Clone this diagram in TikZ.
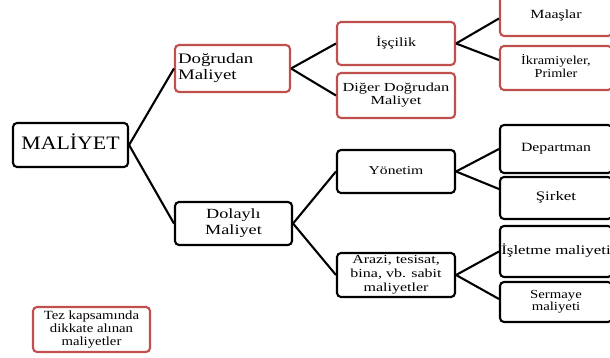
\documentclass[tikz,border=0pt]{standalone}
\usepackage{graphicx}
\usepackage{fontspec}
\setmainfont{Liberation Serif}
\definecolor{boxred}{RGB}{192,80,77}
% #1 column alignment, #2 horizontal stretch, #3 font size, #4 line skip, #5 lines
\newcommand{\cellt}[5]{{\fontsize{#3}{#4}\selectfont\scalebox{#2}[1]{\begin{tabular}{@{}#1@{}}#5\end{tabular}}}}
\tikzset{
  basebox/.style={line width=2.1pt, rounded corners=4pt, fill=white, inner sep=0pt},
  redbox/.style={basebox, draw=boxred},
  blackbox/.style={basebox, draw=black},
  link/.style={draw=black, line width=2.1pt},
}
\begin{document}
\begin{tikzpicture}[x=1pt,y=-1pt]
\clip (0,0) rectangle (610,358);
\fill[white] (0,0) rectangle (610,358);

% root
\node[blackbox, minimum width=115pt, minimum height=44pt] (root) at (70.5,145)
  {\cellt{c}{1.15}{19}{22}{MALİYET}};

% second level
\node[redbox, minimum width=115pt, minimum height=47pt] (direct) at (232.5,68.5)
  {\makebox[109pt][l]{\cellt{l}{1.3}{14.5}{15.5}{Doğrudan\\Maliyet}}};
\node[blackbox, minimum width=117pt, minimum height=43pt] (indirect) at (233.5,223.5)
  {\cellt{c}{1.3}{14}{16}{Dolaylı\\Maliyet}};

% third level
\node[redbox, minimum width=118pt, minimum height=43pt] (labour) at (396,43.5)
  {\cellt{c}{1.28}{12.5}{14}{İşçilik}};
\node[redbox, minimum width=118pt, minimum height=45pt] (otherdirect) at (396,95.5)
  {\cellt{c}{1.33}{12.3}{12.5}{Diğer Doğrudan\\Maliyet}};
\node[blackbox, minimum width=118pt, minimum height=43pt] (mgmt) at (396,171.5)
  {\cellt{c}{1.3}{12}{14}{Yönetim}};
\node[blackbox, minimum width=118pt, minimum height=44pt] (fixed) at (396,275)
  {\cellt{c}{1.3}{12.3}{14}{Arazi, tesisat,\\bina, vb. sabit\\maliyetler}};

% fourth level
\node[redbox, minimum width=112pt, minimum height=41pt] (salary) at (556,15.5)
  {\raisebox{-2pt}{\cellt{c}{1.27}{12.5}{14}{Maaşlar}}};
\node[redbox, minimum width=112pt, minimum height=44pt] (bonus) at (556,68)
  {\cellt{c}{1.17}{12.2}{13.5}{İkramiyeler,\\Primler}};
\node[blackbox, minimum width=112pt, minimum height=48pt] (dept) at (556,149)
  {\raisebox{3pt}{\cellt{c}{1.25}{12.6}{14}{Departman}}};
\node[blackbox, minimum width=112pt, minimum height=42pt] (company) at (556,198)
  {\cellt{c}{1.3}{13}{14}{Şirket}};
\node[blackbox, minimum width=112pt, minimum height=51pt] (opcost) at (556,251.5)
  {\raisebox{4pt}{\cellt{c}{1.3}{13}{14}{İşletme maliyeti}}};
\node[blackbox, minimum width=112pt, minimum height=40pt] (capcost) at (556,302)
  {\cellt{c}{1.2}{12.3}{12.5}{Sermaye\\maliyeti}};

% legend
\node[redbox, minimum width=117pt, minimum height=45pt] (legend) at (91.5,329.5)
  {\cellt{c}{1.18}{12.5}{13}{Tez kapsamında\\dikkate alınan\\maliyetler}};

% connectors
\draw[link] (root.east) -- (direct.west);
\draw[link] (root.east) -- (indirect.west);
\draw[link] (direct.east) -- (labour.west);
\draw[link] (direct.east) -- (otherdirect.west);
\draw[link] (indirect.east) -- (mgmt.west);
\draw[link] (indirect.east) -- (fixed.west);
\draw[link] (labour.east) -- ([yshift=-3pt]salary.west);
\draw[link] (labour.east) -- ([yshift=8pt]bonus.west);
\draw[link] (mgmt.east) -- (dept.west);
\draw[link] (mgmt.east) -- ([yshift=9pt]company.west);
\draw[link] (fixed.east) -- (opcost.west);
\draw[link] (fixed.east) -- ([yshift=3pt]capcost.west);
\end{tikzpicture}
\end{document}
